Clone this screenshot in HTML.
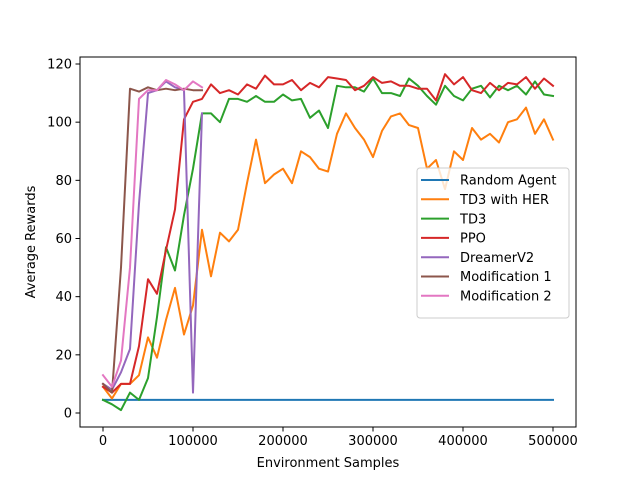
<!DOCTYPE html>
<html><head><meta charset="utf-8"><style>
html,body{margin:0;padding:0;background:#fff;}
svg text{font-family:"DejaVu Sans","Liberation Sans",sans-serif;}
</style></head><body>
<svg id="chart" width="640" height="480" xmlns="http://www.w3.org/2000/svg"></svg>
<script>
const xs = [];
for (let i = 0; i <= 50; i++) xs.push(i * 10000);
const seriesNames = ["Random Agent","TD3 with HER","TD3","PPO","DreamerV2","Modification 1","Modification 2"];
const seriesColors = ["#1f77b4","#ff7f0e","#2ca02c","#d62728","#9467bd","#8c564b","#e377c2"];
const randomAgent = Array(51).fill(4.5);
const td3Her = [9,5,10,10,13,26,19,32,43,27,37,63,47,62,59,63,79,94,79,82,84,79,90,88,84,83,96,103,98,94,88,97,102,103,99,98,84,87,77,90,87,98,94,96,93,100,101,105,96,101,94];
const td3 = [4.5,3,1,7,4.5,12,33,57,49,68,84,103,103,100,108,108,107,109,107,107,109.5,107.5,108,101.5,104,98,112.5,112,112,110.5,115,110,110,109,115,112.5,109,106,112.5,109,107.5,111.5,112.5,108.5,112.5,111,112.5,109.5,114,109.5,109];
const ppo = [9,7,10,10,23,46,41,56,70,101,107,108,113,110,111,109.5,113,111.5,116,113,113,114.5,111,113.5,112,115.5,115,114.5,111,112.5,115.5,113.5,114,112.5,112.5,111.5,111.5,107.5,116.5,113,115.5,111,110,113.5,111,113.5,113,115.5,111.5,115,112.5];
const dreamer = [10,8,14,22,72,110,111,114,112,111,7,103];
const mod1 = [10,7,50,111.5,110.5,112,111,111.5,111,111.5,111,111];
const mod2 = [13,9,18,50,108,111,111,114.5,113,111,114,112];
const allSeries = [randomAgent, td3Her, td3, ppo, dreamer, mod1, mod2];
const xTicks = [0,100000,200000,300000,400000,500000];
const yTicks = [0,20,40,60,80,100,120];

const NS = "http://www.w3.org/2000/svg";
const svg = document.getElementById("chart");
const L=80,R=576,T=57,B=427;
function xPos(v){return 103 + v*450/500000;}
function yPos(v){return 413 - v*349/120;}
function mk(tag, attrs, parent){const e=document.createElementNS(NS,tag);for(const k in attrs)e.setAttribute(k,attrs[k]);(parent||svg).appendChild(e);return e;}

allSeries.forEach((s,si)=>{
  const pts = s.map((v,i)=>xPos(xs[i]).toFixed(1)+","+yPos(v).toFixed(1)).join(" ");
  const pl = mk("polyline",{points:pts,fill:"none",stroke:seriesColors[si],"stroke-width":2,"stroke-linejoin":"round","stroke-linecap":"square"});
  
  
});
const frame = mk("rect",{x:L,y:T,width:R-L,height:B-T,fill:"none",stroke:"#000","stroke-width":1});



xTicks.forEach(t=>{
  const x=xPos(t);
  mk("line",{x1:x,x2:x,y1:B,y2:B+4.5,stroke:"#000","stroke-width":1});
  const tx=mk("text",{x:x,y:B+18,"text-anchor":"middle","font-size":13});
  tx.textContent=String(t);
  
  
});
yTicks.forEach(t=>{
  const y=yPos(t);
  mk("line",{x1:L-4.5,x2:L,y1:y,y2:y,stroke:"#000","stroke-width":1});
  const tx=mk("text",{x:L-8,y:y+4.5,"text-anchor":"end","font-size":13});
  tx.textContent=String(t);
  
  
});
const xt=mk("text",{x:(L+R)/2,y:467,"text-anchor":"middle","font-size":13});
xt.textContent="Environment Samples";


const yt=mk("text",{x:35,y:(T+B)/2,"text-anchor":"middle","font-size":13,transform:"rotate(-90 35 "+((T+B)/2)+")"});
yt.textContent="Average Rewards";



const lg=mk("g",{});


mk("rect",{x:417,y:168,width:152,height:150,rx:3,fill:"#fff","fill-opacity":0.8,stroke:"#ccc","stroke-width":1},lg);
seriesNames.forEach((n,i)=>{
  const y=180+i*19.3;
  const ln=mk("line",{x1:421,x2:449,y1:y,y2:y,stroke:seriesColors[i],"stroke-width":2},lg);
  
  
  const tx=mk("text",{x:460,y:y+4.7,"font-size":13},lg);
  tx.textContent=n;
  
  
});
</script>
</body></html>
